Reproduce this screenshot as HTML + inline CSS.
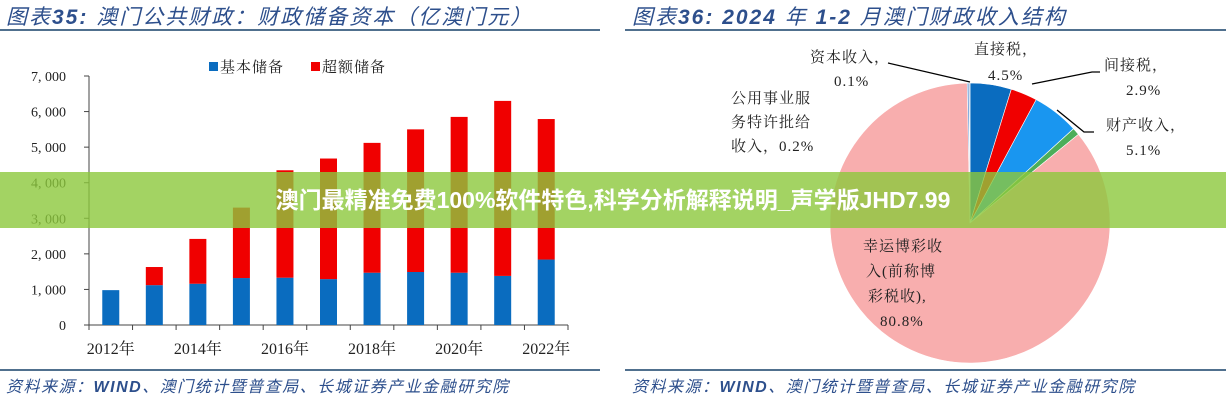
<!DOCTYPE html>
<html><head><meta charset="utf-8">
<style>
html,body{margin:0;padding:0;background:#fff;width:1226px;height:400px;overflow:hidden;position:relative;font-family:"Liberation Serif","Noto Serif CJK SC",serif;}
.title{position:absolute;top:1px;font-style:italic;color:#2d4f8c;font-size:21px;letter-spacing:2px;font-family:"Liberation Sans","Noto Sans CJK SC",sans-serif;white-space:nowrap;}
.rule{position:absolute;height:2px;background:#50708e;}
.src{position:absolute;top:373px;font-style:italic;color:#2d4f8c;font-size:16px;letter-spacing:1.5px;font-family:"Liberation Sans","Noto Sans CJK SC",sans-serif;white-space:nowrap;}
.banner{position:absolute;left:0;top:172px;width:1226px;height:56px;background:rgba(140,200,60,0.8);color:#fff;font-weight:bold;font-size:23px;font-family:"Liberation Sans","Noto Sans CJK SC",sans-serif;text-align:center;line-height:56px;}
svg text{font-family:"Liberation Serif","Noto Serif CJK SC",serif;}
</style></head><body>
<div class="title" style="left:6px">图表<b>35:</b> 澳门公共财政：财政储备资本（亿澳门元）</div>
<div class="title" style="left:632px">图表<b>36:</b> <b>2024</b> 年 <b>1-2</b> 月澳门财政收入结构</div>
<div class="rule" style="left:0;top:29px;width:600px"></div>
<div class="rule" style="left:625px;top:29px;width:601px"></div>
<div class="rule" style="left:0;top:369px;width:600px"></div>
<div class="rule" style="left:625px;top:369px;width:601px"></div>
<div class="src" style="left:6px">资料来源：<b>WIND</b>、澳门统计暨普查局、长城证券产业金融研究院</div>
<div class="src" style="left:632px">资料来源：<b>WIND</b>、澳门统计暨普查局、长城证券产业金融研究院</div>

<svg id="bar" width="600" height="370" style="position:absolute;left:0;top:0"></svg>
<svg id="pie" width="600" height="370" style="position:absolute;left:626px;top:0"></svg>

<div class="banner">澳门最精准免费100%软件特色,科学分析解释说明_声学版JHD7.99</div>

<script>
const years = [2012,2013,2014,2015,2016,2017,2018,2019,2020,2021,2022];
const basicReserve = [980,1120,1160,1320,1330,1290,1470,1490,1470,1380,1840];
const excessReserve = [0,510,1260,1980,3020,3390,3650,4010,4380,4920,3950];
const yTicks = [0,1000,2000,3000,4000,5000,6000,7000];
const xTickLabels = ["2012年","2014年","2016年","2018年","2020年","2022年"];

const pieLabels = ["直接税","间接税","财产收入","其他","幸运博彩收入","公用事业服务特许批给收入","资本收入"];
const pieValues = [4.5,2.9,5.1,0.8,80.8,0.2,0.1];
const pieColors = ["#0a6cbf","#f00000","#1996f0","#4cae5a","#f8aeae","#6f9fd8","#4f7fbf"];

const NS="http://www.w3.org/2000/svg";
function mk(parent,tag,attrs,txt){const e=document.createElementNS(NS,tag);for(const k in attrs)e.setAttribute(k,attrs[k]);if(txt!==undefined)e.textContent=txt;parent.appendChild(e);return e;}

const bar=document.getElementById('bar');
const x0=89,x1=568,yB=325,yT=76,ymax=7000;
const ys=v=>yB-(v/ymax)*(yB-yT);
const slot=(x1-x0)/years.length;
const xc=i=>x0+slot*(i+0.5);
yTicks.forEach(t=>{
  const tl=mk(bar,'text',{x:66,y:ys(t)+5,'text-anchor':'end','font-size':14,fill:'#222'},t.toLocaleString('en-US').replace(',',', '));
  
  
  mk(bar,'line',{x1:x0-5,x2:x0,y1:ys(t),y2:ys(t),stroke:'#444'});
});
const ya=mk(bar,'line',{x1:x0,x2:x0,y1:yT,y2:yB,stroke:'#444'});


const xa=mk(bar,'line',{x1:x0,x2:x1,y1:yB,y2:yB,stroke:'#444'});


for(let i=0;i<=years.length;i++)mk(bar,'line',{x1:x0+slot*i,x2:x0+slot*i,y1:yB,y2:yB+5,stroke:'#444'});
years.forEach((y,i)=>{
  const w=17,b=basicReserve[i],e=excessReserve[i];
  const r1=mk(bar,'rect',{x:xc(i)-w/2,y:ys(b),width:w,height:yB-ys(b),fill:'#0a6cbf'});
  
  
  if(e>0){const r2=mk(bar,'rect',{x:xc(i)-w/2,y:ys(b+e),width:w,height:ys(b)-ys(b+e),fill:'#f00000'});
  
  }
});
xTickLabels.forEach((l,k)=>{
  const t=mk(bar,'text',{x:xc(k*2),y:354,'text-anchor':'middle','font-size':16,fill:'#222'},l);
  
  
});
const lg=mk(bar,'g',{});


mk(lg,'rect',{x:209,y:62,width:9,height:9,fill:'#0a6cbf'});
mk(lg,'text',{x:220,y:72,'font-size':15,fill:'#222','letter-spacing':1},'基本储备');
mk(lg,'rect',{x:311,y:62,width:9,height:9,fill:'#f00000'});
mk(lg,'text',{x:322,y:72,'font-size':15,fill:'#222','letter-spacing':1},'超额储备');

const pie=document.getElementById('pie');
const cx=344,cy=223,R=140;
const tot=pieValues.reduce((a,b)=>a+b,0);
let acc=0;
pieValues.forEach((v,i)=>{
  const a0=acc/tot*2*Math.PI;acc+=v;const a1=acc/tot*2*Math.PI;
  const p=(a)=>[cx+R*Math.sin(a),cy-R*Math.cos(a)];
  const [sx,sy]=p(a0),[ex,ey]=p(a1);
  const large=(a1-a0)>Math.PI?1:0;
  const s=mk(pie,'path',{d:`M${cx},${cy} L${sx},${sy} A${R},${R} 0 ${large} 1 ${ex},${ey} Z`,fill:pieColors[i],stroke:'#fff','stroke-width':0.6});
  
  
});
mk(pie,'polyline',{points:'262,63 344,82',fill:'none',stroke:'#000','stroke-width':1.3});
mk(pie,'polyline',{points:'406,84 466,72 474,72',fill:'none',stroke:'#000','stroke-width':1.3});
mk(pie,'polyline',{points:'431,110 458,132 468,132',fill:'none',stroke:'#000','stroke-width':1.3});
const labels=[
 ['资本收入，',184,62],['0.1%',208,86],
 ['直接税，',348,54],['4.5%',362,80],
 ['间接税，',478,70],['2.9%',500,95],
 ['财产收入，',480,130],['5.1%',500,155],
 ['公用事业服',105,103],['务特许批给',105,127],['收入，0.2%',105,151],
 ['幸运博彩收',237,251],['入(前称博',240,276],['彩税收),',242,301],['80.8%',254,326]
];
labels.forEach(l=>{
  const t=mk(pie,'text',{x:l[1],y:l[2],'font-size':15,fill:'#222','letter-spacing':1},l[0]);
  
  
});
</script>
</body></html>
